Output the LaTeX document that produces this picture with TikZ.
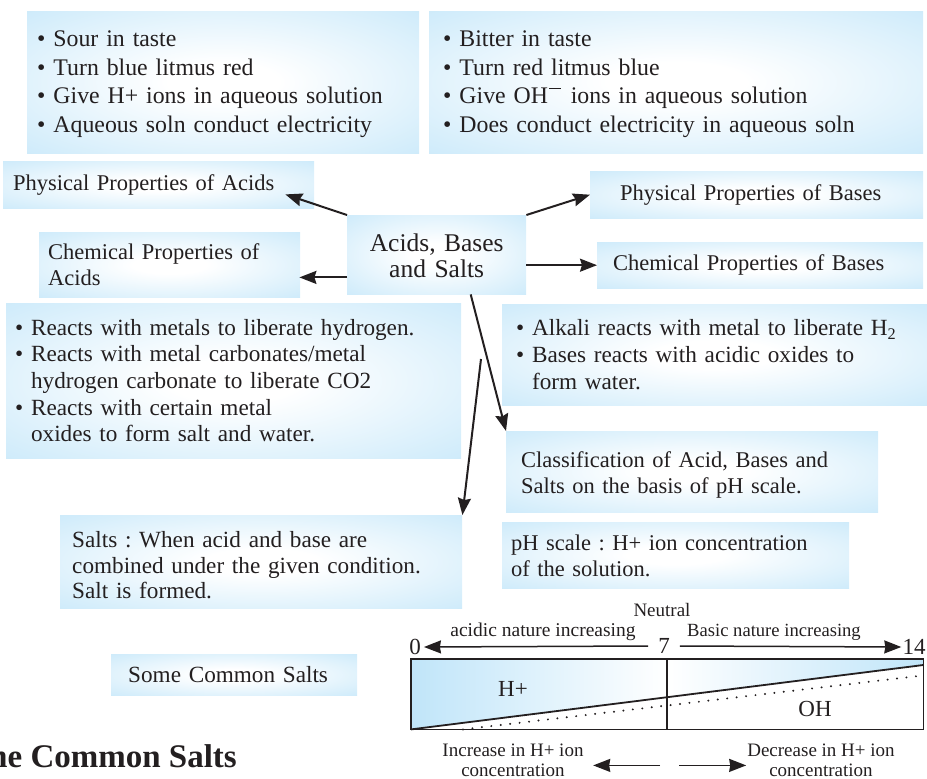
\documentclass[tikz,border=0pt]{standalone}
\usepackage{fontspec}
\setmainfont{Liberation Serif}
\usetikzlibrary{arrows.meta,calc}
\definecolor{bb}{RGB}{192,229,249}
\definecolor{txt}{RGB}{35,31,32}
\pgfdeclareradialshading{boxshade}{\pgfpoint{0bp}{0bp}}{color(0bp)=(white); color(7bp)=(white); color(44bp)=(bb); color(100bp)=(bb)}
\newcommand{\bul}{\textbullet\ }
\newcommand{\bulsp}{\phantom{\textbullet\ }}
\newcommand{\strutup}[1]{\rule{0pt}{#1}}
\frenchspacing
\begin{document}
\begin{tikzpicture}[x=1pt,y=-1pt,
  box/.style={shading=boxshade, anchor=north west, align=left, inner ysep=0pt, text=txt},
  fa/.style={font=\fontsize{23.8}{28.7}\selectfont},
  fb/.style={font=\fontsize{22.5}{26}\selectfont},
  fc/.style={font=\fontsize{23.2}{26.7}\selectfont},
  lab/.style={font=\fontsize{19}{20}\selectfont, text=txt, inner sep=0pt, align=center},
  num/.style={font=\fontsize{23}{23}\selectfont, text=txt, inner ysep=0pt},
  arr/.style={draw=txt, line width=2pt, -{Stealth[length=17pt,width=13pt,inset=2pt]}},
  arrb/.style={draw=txt, line width=1.5pt, -{Stealth[length=17pt,width=13pt,inset=1pt]}}]
\useasboundingbox (0,0) rectangle (927,779);

% top property boxes
\node[box, fa, minimum width=392pt, minimum height=142pt, inner xsep=10pt, text width=372pt] (ap) at (27,11)
  {\strutup{20pt}\bul Sour in taste\\ \bul Turn blue litmus red\\ \bul Give H+ ions in aqueous solution\\ \bul Aqueous soln conduct electricity};
\node[box, fa, minimum width=494pt, minimum height=142pt, inner xsep=14pt, text width=466pt] (bp) at (429,11)
  {\strutup{20pt}\bul Bitter in taste\\ \bul Turn red litmus blue\\ \bul Give OH\kern1pt\raisebox{0.62em}{\rule{0.5em}{0.06em}}\kern2pt\ ions in aqueous solution\\ \bul Does conduct electricity in aqueous soln};

% label boxes
\node[box, fb, minimum width=311pt, minimum height=47pt, inner xsep=10pt, text width=291pt] (pa) at (3,161) {Physical Properties of Acids};
\node[box, fb, minimum width=261pt, minimum height=65pt, inner xsep=9pt, text width=243pt] (ca) at (39,232) {Chemical Properties of\\Acids};
\node[box, fb, minimum width=333pt, minimum height=47pt, inner xsep=30pt, text width=273pt] (pb) at (590,171) {Physical Properties of Bases};
\node[box, fb, minimum width=326pt, minimum height=46pt, inner xsep=16pt, text width=294pt] (cb) at (597,242) {Chemical Properties of Bases};

% centre
\node[box, font=\fontsize{25.5}{26}\selectfont, align=center, minimum width=179pt, minimum height=79pt, inner xsep=0pt, text width=179pt] (c) at (347,215) {\strutup{19.3pt}Acids, Bases\\and Salts};

% chemical property lists
\node[box, fc, minimum width=455pt, minimum height=155pt, inner xsep=9pt, text width=437pt] (cal) at (6,303)
  {\bul Reacts with metals to liberate hydrogen.\\ \bul Reacts with metal carbonates/metal\\ \bulsp hydrogen carbonate to liberate CO2\\ \bul Reacts with certain metal\\ \bulsp oxides to form salt and water.};
\node[box, fc, minimum width=425pt, minimum height=101pt, inner xsep=14pt, text width=397pt] (cbl) at (502,304)
  {\bul Alkali reacts with metal to liberate H\textsubscript{2}\\ \bul Bases reacts with acidic oxides to\\ \bulsp form water.};

% classification, pH, salts
\node[box, fb, minimum width=372pt, minimum height=81pt, inner xsep=15pt, text width=342pt] (cl) at (506,431) {\strutup{21.5pt}Classification of Acid, Bases and\\Salts on the basis of pH scale.};
\node[box, fb, minimum width=347pt, minimum height=66pt, inner xsep=9pt, text width=329pt] (ph) at (502,522) {\strutup{17.3pt}pH scale : H+ ion concentration\\of the solution.};
\node[box, font=\fontsize{23.2}{25.5}\selectfont, minimum width=402pt, minimum height=93pt, inner xsep=12pt, text width=378pt] (salts) at (60,515) {\strutup{23.8pt}Salts : When acid and base are\\combined under the given condition.\\Salt is formed.};
\node[box, fc, minimum width=246pt, minimum height=41pt, inner xsep=17pt, text width=212pt] (scs) at (111,654) {Some Common Salts};

\node[anchor=base east, font=\fontsize{33}{33}\selectfont\bfseries, text=txt, inner sep=0pt] (head) at (237,767) {Some Common Salts};

% connectors from centre
\coordinate (s0) at (481,359);
\draw[arr] (c.north west) -- ($(pa.south east)+(-29,-14)$);
\draw[arr] (c.north east) -- (pb.west);
\draw[arr] ($(c.south west)+(0,-17)$) -- ($(ca.south east)+(-1,-20)$);
\draw[arr] (c.east |- cb.west) -- (cb.west);
\draw[arr] ($(c.south)+(34,0)$) -- (cl.north west);
\draw[arr] (s0) -- (salts.north east);

% pH scale
\node[lab] (neutral) at (662,610) {Neutral};
\node[lab, font=\fontsize{19.5}{20}\selectfont] (acidic) at (543,632) {acidic nature increasing};
\node[lab, font=\fontsize{18.6}{20}\selectfont] (basic) at (774,632) {Basic nature increasing};
\node[num, inner xsep=3pt] (zero) at (415,647) {0};
\node[num, inner xsep=10pt] (seven) at (664,646) {7};
\node[num, inner xsep=1pt] (fourteen) at (914,647) {14};
\draw[arrb] (seven.west) -- (zero.east);
\draw[arrb] (seven.east) -- (fourteen.west);

\node[anchor=north west, minimum width=512pt, minimum height=70pt, inner sep=0pt] (bar) at (411,659) {};
\fill[left color=bb, right color=bb, middle color=white] (bar.north west) -- (bar.north east) -- ($(bar.north east)+(0,6)$) -- (bar.south west) -- cycle;
\draw[txt, line width=1.8pt] (bar.north west) rectangle (bar.south east);
\draw[txt, line width=1.6pt] (bar.north) -- (bar.south);
\draw[txt, line width=1.8pt] (bar.south west) -- ($(bar.north east)+(0,6)$);
\draw[txt, line width=2.2pt, line cap=round, dash pattern=on 0pt off 9.5pt] ($(bar.south west)+(52,0)$) -- ($(bar.north east)+(-5,17)$);
\node[num] (hplus) at (513,689) {H+};
\node[num] (oh) at (815,709) {OH};

\node[lab] (inc) at (513,760) {Increase in H+ ion\\concentration};
\node[lab] (dec) at (821,760) {Decrease in H+ ion\\concentration};
\draw[arrb] ($(bar.south)+(-7,36)$) -- ($(bar.south)+(-74,36)$);
\draw[arrb] ($(bar.south)+(12,36)$) -- ($(bar.south)+(79,36)$);
\end{tikzpicture}
\end{document}
